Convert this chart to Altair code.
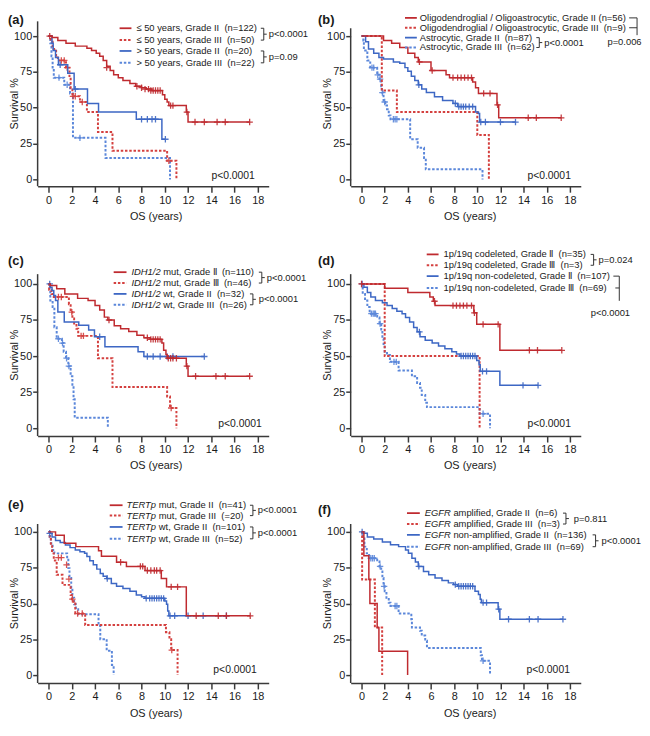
import altair as alt
import pandas as pd

FONT = "Liberation Sans"
RED = "#BF2A2F"
BLUE = "#3D67C4"
RED_D = "#D4403F"
BLUE_D = "#5B87DA"
AX = "#3a3a3a"
CROSS = "M-1,0L1,0M0,-1L0,1"

X_TICKS = [0, 2, 4, 6, 8, 10, 12, 14, 16, 18]
Y_TICKS = [0, 25, 50, 75, 100]
XDOM = [-0.94, 18.94]

# ---------------- panel (a) ----------------
A_LABELS = ["\u2264 50 years, Grade II \u00a0(n=122)", "\u2264 50 years, Grade III \u00a0(n=50)",
            "> 50 years, Grade II \u00a0(n=20)", "> 50 years, Grade III \u00a0(n=22)"]
A_PVALS = ["p<0.0001", "p=0.09"]
A_R2_T = [0, 0.3, 0.8, 1.5, 2.3, 3.3, 3.7, 4.1, 4.4, 4.7, 5.0, 5.3, 5.6, 6.0, 6.4, 7.0, 7.5, 8.0, 8.4, 8.9, 9.8, 10.0, 10.2, 10.35, 11.85, 12.0, 17.3]
A_R2_S = [100, 99, 97, 95, 93, 91.5, 90, 88, 86, 83, 79, 76, 73, 71, 69, 67, 65, 64, 63, 62, 59, 56, 54, 51.5, 47, 40, 40]
A_R2_CT = [0.1, 5.0, 7.6, 8.0, 8.3, 8.6, 8.8, 9.0, 9.2, 9.4, 9.6, 10.5, 10.7, 11.9, 12.6, 13.4, 14.5, 15.2, 17.3]
A_R2_CS = [100, 78, 65, 64, 63, 63, 62, 62, 62, 62, 62, 51.5, 51.5, 47, 40, 40, 40, 40, 40]
A_R3_T = [0, 0.2, 0.35, 0.65, 0.8, 1.5, 1.8, 1.9, 2.05, 2.7, 3.3, 4.25, 5.5, 10.2, 11.0]
A_R3_S = [100, 96, 91, 86, 83, 78, 71, 64, 58, 54, 47, 33, 20, 13, 0]
A_R3_CT = [1.1, 1.35, 1.6, 2.1, 2.3, 2.9, 10.35]
A_R3_CS = [83, 83, 78, 58, 58, 54, 13]
A_B2_T = [0, 0.3, 0.4, 0.6, 0.85, 1.65, 2.2, 3.35, 4.3, 7.55, 9.75, 10.05]
A_B2_S = [100, 95, 90, 85, 80, 74, 63, 53, 47, 42, 28, 28]
A_B2_CT = [1.0, 2.3, 8.0, 8.5, 8.9, 9.2, 10.05]
A_B2_CS = [80, 63, 42, 42, 42, 42, 28]
A_B3_T = [0, 0.15, 0.25, 0.35, 0.45, 1.35, 1.85, 2.1, 4.9, 10.45]
A_B3_S = [100, 95, 86, 77, 71, 66, 60, 29, 15, 0]
A_B3_CT = [0.9, 1.6, 2.7]
A_B3_CS = [71, 66, 29]

# ---------------- panel (b) ----------------
B_LABELS = ["Oligodendroglial / Oligoastrocytic, Grade II (n=56)",
            "Oligodendroglial / Oligoastrocytic, Grade III \u00a0(n=9)",
            "Astrocytic, Grade II \u00a0(n=87)", "Astrocytic, Grade III \u00a0(n=62)"]
B_PVALS = ["p=0.006", "p<0.0001"]
B_R2_T = [0, 1.9, 2.6, 3.3, 4.0, 4.6, 4.9, 6.0, 7.3, 7.6, 9.6, 9.85, 10.1, 11.7, 11.85, 17.25]
B_R2_S = [100, 97, 95, 92, 88, 85, 82, 76, 73, 71, 68, 64, 60, 52, 43, 43]
B_R2_CT = [5.0, 6.1, 7.9, 8.3, 8.6, 8.9, 9.2, 9.5, 10.55, 11.1, 11.75, 14.4, 15.1, 17.25]
B_R2_CS = [82, 76, 71, 71, 71, 71, 71, 71, 60, 60, 52, 43, 43, 43]
B_R3_T = [0, 1.75, 3.05, 10.0, 11.0]
B_R3_S = [100, 62, 47, 31, 0]
B_R3_CT = []
B_R3_CS = []
B_B2_T = [0, 0.35, 0.6, 1.05, 1.5, 1.9, 2.75, 3.3, 3.75, 4.0, 4.3, 4.6, 4.9, 5.2, 5.6, 6.3, 7.0, 7.9, 8.3, 9.85, 10.1, 10.2, 13.3]
B_B2_S = [100, 96, 91, 88, 85, 84, 82, 81, 78, 75.5, 72, 69, 66, 63, 60.6, 57.7, 55, 53, 50.8, 47, 46, 40, 40]
B_B2_CT = [4.95, 8.1, 8.4, 8.6, 8.8, 9.0, 9.3, 9.6, 10.3, 10.7, 12.0, 13.3]
B_B2_CS = [66, 53, 50.8, 50.8, 50.8, 50.8, 50.8, 50.8, 40, 40, 40, 40]
B_B3_T = [0, 0.15, 0.2, 0.5, 0.75, 1.35, 1.55, 1.7, 1.75, 1.9, 2.05, 2.2, 2.35, 2.5, 4.2, 4.85, 5.4, 5.55, 10.45]
B_B3_S = [100, 97, 90, 83, 78, 73, 70, 65, 60.6, 54, 51.5, 49, 44.6, 42, 28, 22, 15, 7, 0]
B_B3_CT = [0.9, 1.05, 1.4, 1.6, 1.8, 2.0, 2.75, 2.9, 3.05]
B_B3_CS = [78, 78, 73, 70, 60.6, 54, 42, 42, 42]

# ---------------- panel (c) ----------------
C_ITALIC = "IDH1/2"
C_LABELS = ["mut, Grade \u2161 \u00a0(n=110)", "mut, Grade \u2162 \u00a0(n=46)",
            "wt, Grade II \u00a0(n=32)", "wt, Grade III \u00a0(n=26)"]
C_PVALS = ["p<0.0001", "p<0.0001"]
C_R2_T = [0, 0.15, 0.7, 1.4, 2.5, 3.4, 4.0, 4.4, 4.8, 5.1, 5.65, 6.2, 6.9, 7.6, 8.2, 8.75, 9.75, 9.9, 10.1, 10.2, 11.85, 12.0, 17.3]
C_R2_S = [100, 99, 96.6, 93, 90, 88.5, 85, 82, 77, 75, 71, 69, 67, 64.5, 62.7, 61.6, 59, 54, 51, 48.5, 43, 36, 36]
C_R2_CT = [5.2, 8.5, 8.8, 9.0, 9.2, 9.4, 9.6, 10.3, 10.5, 10.7, 11.0, 11.9, 12.65, 14.4, 15.2, 17.3]
C_R2_CS = [75, 62.7, 61.6, 61.6, 61.6, 61.6, 61.6, 48.5, 48.5, 48.5, 48.5, 43, 36, 36, 36, 36]
C_R3_T = [0, 0.05, 0.25, 0.45, 1.75, 1.9, 2.05, 2.2, 2.4, 2.55, 4.25, 5.5, 10.2, 10.45, 11.0]
C_R3_S = [100, 96, 93, 91, 86, 80.5, 76, 72.5, 69, 64, 48.5, 28.5, 22, 14, 0]
C_R3_CT = [0.85, 1.1, 2.0, 2.8, 3.0, 10.55]
C_R3_CS = [91, 91, 80.5, 64, 64, 14]
C_B2_T = [0, 0.15, 0.3, 0.45, 0.6, 0.8, 1.35, 2.6, 3.45, 3.95, 4.85, 7.7, 8.2, 13.4]
C_B2_S = [100, 97.7, 95.4, 92, 88.5, 80.5, 73.7, 71.4, 68, 63.4, 56.5, 53, 49.7, 49.7]
C_B2_CT = [0.1, 4.4, 8.5, 9.0, 9.6, 10.2, 10.7, 13.4]
C_B2_CS = [100, 63.4, 49.7, 49.7, 49.7, 49.7, 49.7, 49.7]
C_B3_T = [0, 0.1, 0.15, 0.35, 0.5, 0.7, 1.15, 1.3, 1.5, 1.7, 1.9, 2.05, 2.15, 2.25, 5.1]
C_B3_S = [100, 96, 88.5, 84, 70, 62, 59, 53, 48.5, 43, 36, 29, 20, 7.3, 0]
C_B3_CT = [0.85, 1.2, 1.55, 1.75]
C_B3_CS = [62, 59, 48.5, 43]

# ---------------- panel (d) ----------------
D_LABELS = ["1p/19q codeleted, Grade \u2161 \u00a0(n=35)", "1p/19q codeleted, Grade \u2162 \u00a0(n=3)",
            "1p/19q non-codeleted, Grade \u2161 \u00a0(n=107)", "1p/19q non-codeleted, Grade \u2162 \u00a0(n=69)"]
D_PVALS = ["p=0.024", "p<0.0001"]
D_R2_T = [0, 2.0, 4.0, 5.9, 6.2, 6.35, 9.7, 9.95, 11.95, 17.3]
D_R2_S = [100, 97, 94, 91, 88, 85, 80, 72, 54, 54]
D_R2_CT = [0.0, 6.3, 7.9, 8.2, 8.5, 8.8, 9.1, 9.5, 9.75, 10.5, 11.8, 14.5, 15.2, 17.3]
D_R2_CS = [100, 88, 85, 85, 85, 85, 85, 85, 80, 72, 72, 54, 54, 54]
D_R3_T = [0, 2.0, 10.2]
D_R3_S = [100, 50, 0]
D_R3_CT = []
D_R3_CS = []
D_B2_T = [0, 0.2, 0.5, 0.8, 1.2, 1.8, 2.2, 2.65, 3.05, 3.5, 3.8, 4.15, 4.5, 4.8, 5.05, 5.5, 6.1, 6.65, 7.2, 7.8, 8.2, 8.5, 9.95, 10.15, 10.25, 11.95, 15.25]
D_B2_S = [100, 97.7, 94, 91, 88.5, 87, 85, 83, 81, 79.4, 76.7, 73.7, 69.8, 66.8, 63.4, 61, 59, 57, 55, 53, 51.5, 50, 47, 44, 39.4, 29.7, 29.7]
D_B2_CT = [0.05, 5.0, 8.6, 8.8, 9.0, 9.2, 9.4, 9.6, 9.8, 10.45, 10.8, 13.95, 15.25]
D_B2_CS = [100, 66.8, 50, 50, 50, 50, 50, 50, 50, 39.4, 39.4, 29.7, 29.7]
D_B3_T = [0, 0.1, 0.3, 0.5, 0.7, 1.35, 1.55, 1.7, 1.8, 1.9, 2.0, 2.2, 2.45, 3.2, 4.35, 4.8, 5.05, 5.2, 5.5, 5.65, 10.2, 11.1]
D_B3_S = [100, 93, 88.5, 84, 79.4, 76.7, 72.5, 68.4, 62, 56.5, 53, 50.8, 46, 40, 36, 31.4, 28, 23, 17.6, 14.6, 10, 0]
D_B3_CT = [0.85, 1.0, 1.1, 1.2, 1.6, 2.8, 3.0, 10.5]
D_B3_CS = [79.4, 79.4, 79.4, 79.4, 72.5, 46, 46, 10]

# ---------------- panel (e) ----------------
E_ITALIC = "TERTp"
E_LABELS = ["mut, Grade II \u00a0(n=41)", "mut, Grade III \u00a0(=20)",
            "wt, Grade II \u00a0(n=101)", "wt, Grade III \u00a0(n=52)"]
E_PVALS = ["p<0.0001", "p<0.0001"]
E_R2_T = [0, 0.6, 1.35, 2.35, 4.3, 4.55, 5.85, 6.7, 8.3, 9.7, 10.15, 11.85, 17.35]
E_R2_S = [100, 97.7, 92, 89.7, 86.9, 83, 78.8, 75.9, 73, 67.4, 61.6, 41.4, 41.4]
E_R2_CT = [6.2, 7.9, 8.1, 8.5, 8.8, 9.1, 9.3, 9.6, 10.55, 11.1, 12.7, 14.6, 15.3, 17.35]
E_R2_CS = [78.8, 75.9, 75.9, 73, 73, 73, 73, 73, 61.6, 61.6, 41.4, 41.4, 41.4, 41.4]
E_R3_T = [0, 0.1, 0.2, 0.3, 0.45, 0.7, 1.2, 1.9, 2.0, 2.15, 2.3, 3.15, 10.1, 10.4, 10.55, 11.1]
E_R3_S = [100, 95, 90, 85, 80, 70, 63, 56, 53, 50, 43, 35, 30, 25, 17.5, 0]
E_R3_CT = [0.85, 1.1, 1.55, 1.75, 2.05, 2.5, 2.9, 10.6]
E_R3_CS = [82, 82, 77, 67, 53, 43, 43, 17.5]
E_B2_T = [0, 0.15, 0.3, 0.6, 1.0, 1.45, 1.85, 2.3, 2.7, 3.1, 3.3, 3.55, 3.85, 4.15, 4.45, 4.7, 5.0, 5.4, 5.85, 6.4, 7.0, 7.55, 8.0, 8.3, 10.0, 10.15, 10.25, 10.35, 15.3]
E_B2_S = [100, 99, 96.5, 94, 92.6, 90.8, 89, 87.4, 86.2, 85, 82.8, 79.8, 77, 74, 71, 69, 67.4, 64, 62, 60.5, 58.6, 56, 54.7, 53.6, 51.7, 49.4, 44.8, 41.4, 41.4]
E_B2_CT = [0.1, 5.05, 8.4, 8.7, 8.9, 9.1, 9.3, 9.5, 9.7, 9.9, 10.45, 10.85, 12.0, 13.3, 15.3]
E_B2_CS = [99, 67.4, 53.6, 53.6, 53.6, 53.6, 53.6, 53.6, 53.6, 53.6, 41.4, 41.4, 41.4, 41.4, 41.4]
E_B3_T = [0, 0.1, 0.2, 0.35, 0.5, 1.6, 1.7, 1.8, 1.95, 2.05, 2.2, 2.35, 2.55, 4.3, 4.45, 5.0, 5.45, 5.6]
E_B3_S = [100, 96.5, 92, 87.4, 85, 80.5, 74.7, 67.8, 60.9, 54, 49.4, 46, 42.5, 34.5, 25, 17, 7, 0]
E_B3_CT = []
E_B3_CS = []

# ---------------- panel (f) ----------------
F_ITALIC = "EGFR"
F_LABELS = ["amplified, Grade II \u00a0(n=6)", "amplified, Grade III \u00a0(n=3)",
            "non-amplified, Grade II \u00a0(n=136)", "non-amplified, Grade III \u00a0(n=69)"]
F_PVALS = ["p=0.811", "p<0.0001"]
F_R2_T = [0, 0.2, 0.63, 0.72, 1.35, 1.5, 3.98]
F_R2_S = [100, 83.3, 66.7, 50, 33.3, 16.7, 0]
F_R2_CT = []
F_R2_CS = []
F_R3_T = [0, 0.05, 1.15, 1.78]
F_R3_S = [100, 66.7, 33.3, 0]
F_R3_CT = []
F_R3_CS = []
F_B2_T = [0, 0.15, 0.5, 1.05, 1.8, 2.5, 3.2, 3.8, 4.05, 4.35, 4.65, 4.9, 5.35, 5.8, 6.35, 6.95, 7.5, 7.95, 8.3, 9.8, 10.1, 10.25, 10.35, 11.8, 11.95, 17.4]
F_B2_S = [100, 99, 96.5, 95, 93, 91, 89.7, 87.4, 85, 81.6, 78.9, 75.9, 72.4, 70, 67.8, 66, 64.4, 63.2, 62, 58.6, 56.3, 52.9, 50.6, 46, 39, 39]
F_B2_CT = [0.05, 4.95, 8.1, 8.4, 8.6, 8.8, 9.0, 9.2, 9.4, 9.6, 10.5, 10.8, 11.85, 12.7, 14.5, 15.25, 17.4]
F_B2_CS = [100, 75.9, 63.2, 62, 62, 62, 62, 62, 62, 62, 50.6, 50.6, 46, 39, 39, 39, 39]
F_B3_T = [0, 0.1, 0.25, 0.45, 0.65, 1.35, 1.55, 1.7, 1.8, 1.9, 2.0, 2.15, 2.35, 2.5, 3.2, 4.3, 4.35, 5.05, 5.2, 5.5, 5.65, 10.3, 10.4, 11.1]
F_B3_S = [100, 95.4, 89.7, 85, 81.6, 79.3, 75.9, 72.4, 67.8, 62, 58.6, 54, 50.6, 48.3, 43, 39, 33.3, 31, 27.6, 24, 19, 13.8, 10, 0]
F_B3_CT = [0.8, 0.95, 1.1, 1.6, 1.95, 2.9, 3.05, 10.5]
F_B3_CS = [81.6, 81.6, 81.6, 75.9, 62, 48.3, 48.3, 10]

P_OVERALL = "p<0.0001"
X_TITLE = "OS (years)"
Y_TITLE = "Survival %"

ONE = alt.Data(values=[{"k": 0}])


def xenc():
    return alt.X("t:Q", scale=alt.Scale(domain=XDOM, nice=False, zero=False),
                 axis=alt.Axis(values=X_TICKS, title=None, grid=False, domainColor=AX, domainWidth=1.5,
                               tickColor=AX, tickWidth=1.5, tickSize=6, labelPadding=2, labelFont=FONT,
                               labelFontSize=11, labelColor="#1a1a1a", labelAngle=0, format="d",
                               labelFlush=False, labelOverlap=False))


def yenc(ydom):
    return alt.Y("s:Q", scale=alt.Scale(domain=ydom, nice=False, zero=False),
                 axis=alt.Axis(values=Y_TICKS, title=None, grid=False, domain=False, tickColor=AX,
                               tickWidth=1.5, tickSize=5, labelPadding=1, labelFont=FONT, labelFontSize=11,
                               labelColor="#1a1a1a", format="d", labelFlush=False, labelOverlap=False))


def txt(text, x, y, size=9.5, align="left", italic=False, bold=False, angle=None, color="#1a1a1a"):
    kw = dict(text=text, align=align, baseline="middle", fontSize=size, font=FONT, color=color)
    if italic:
        kw["fontStyle"] = "italic"
    if bold:
        kw["fontWeight"] = "bold"
    if angle is not None:
        kw["angle"] = angle
    return alt.Chart(ONE).mark_text(**kw).encode(x=alt.value(x), y=alt.value(y))


def hrule(x1, x2, y, color="#333", width=1.0, dash=None):
    kw = dict(color=color, strokeWidth=width)
    if dash:
        kw["strokeDash"] = dash
    return alt.Chart(ONE).mark_rule(**kw).encode(x=alt.value(x1), x2=alt.value(x2), y=alt.value(y))


def vrule(x, y1, y2, color="#333", width=1.0):
    return alt.Chart(ONE).mark_rule(color=color, strokeWidth=width).encode(
        x=alt.value(x), y=alt.value(y1), y2=alt.value(y2))


def bracket(xl, xr, y1, y2, tick=3):
    return [hrule(xl, xr, y1), vrule(xr, y1, y2), hrule(xl, xr, y2), hrule(xr, xr + tick, (y1 + y2) / 2)]


STYLES = [(RED, False), (RED_D, True), (BLUE, False), (BLUE_D, True)]


def km(T, S, CT, CS, color, dotted, ydom):
    df = pd.DataFrame({"t": T, "s": S})
    kw = dict(interpolate="step-after", color=color, strokeWidth=1.5)
    if dotted:
        kw.update(strokeDash=[2.5, 1.8], strokeWidth=2)
    out = [alt.Chart(df).mark_line(**kw).encode(x=xenc(), y=yenc(ydom))]
    if CT:
        cdf = pd.DataFrame({"t": CT, "s": CS})
        out.append(alt.Chart(cdf).mark_point(shape=CROSS, size=42, filled=False, color=color,
                                             strokeWidth=1.3, opacity=0.9).encode(x=xenc(), y=yenc(ydom)))
    return out


def legend(sx0, sx1, tx, rows, labels, italic=None, italic_w=0.0):
    out = []
    for (color, dotted), yy, lab in zip(STYLES, rows, labels):
        out.append(hrule(sx0, sx1, yy, color=color, width=2.0 if dotted else 1.8,
                         dash=[2.5, 1.8] if dotted else None))
        if italic:
            out.append(txt(italic, tx, yy, italic=True))
            out.append(txt(lab, tx + italic_w + 2.6, yy))
        else:
            out.append(txt(lab, tx, yy))
    return out


def panel(W, H, ydom, series, extra, label, lab_xy, p_xy, xt_x, xt_dy, axis_top=0):
    layers = [vrule(0, axis_top, H, color=AX, width=1.5)]
    order = [3, 1, 2, 0]
    for i in order:
        T, S, CT, CS = series[i]
        color, dotted = STYLES[i]
        layers += km(T, S, CT, CS, color, dotted, ydom)
    layers += extra
    layers.append(txt(label, lab_xy[0], lab_xy[1], size=13, bold=True))
    layers.append(txt(P_OVERALL, p_xy[0], p_xy[1], size=10.5, align="right"))
    layers.append(txt(X_TITLE, xt_x, H + xt_dy, size=11, align="center"))
    layers.append(txt(Y_TITLE, -22.5, H / 2, size=11, align="center", angle=270))
    return alt.layer(*layers).properties(width=W, height=H)


WL, WR = 234, 233
H1, H2, H3 = 167, 164, 161
YD1, YD2, YD3 = [-4.8, 110.3], [-5.5, 106.8], [-5.5, 105.5]

# (a)
rows_a = [7, 19, 30, 42]
extra_a = legend(83, 95, 100, rows_a, A_LABELS)
extra_a += bracket(226, 229, rows_a[0], rows_a[1]) + [txt(A_PVALS[0], 234, (rows_a[0] + rows_a[1]) / 2)]
extra_a += bracket(226, 229, rows_a[2], rows_a[3]) + [txt(A_PVALS[1], 234, (rows_a[2] + rows_a[3]) / 2)]
pa = panel(WL, H1, YD1,
           [(A_R2_T, A_R2_S, A_R2_CT, A_R2_CS), (A_R3_T, A_R3_S, A_R3_CT, A_R3_CS),
            (A_B2_T, A_B2_S, A_B2_CT, A_B2_CS), (A_B3_T, A_B3_S, A_B3_CT, A_B3_CS)],
           extra_a, "(a)", (-30, -1.5), (220, H1 - 10), 120, 31)

# (b)
rows_b = [-3.5, 6.5, 16.5, 26.5]
extra_b = legend(55, 67, 70, rows_b, B_LABELS)
extra_b += [hrule(282, 290, rows_b[0]), hrule(282, 290, rows_b[1]), vrule(290, rows_b[0], 14),
            txt(B_PVALS[0], 260, 21)]
extra_b += bracket(188, 191, rows_b[2], rows_b[3]) + [txt(B_PVALS[1], 196, (rows_b[2] + rows_b[3]) / 2)]
pb = panel(WR, H1, YD1,
           [(B_R2_T, B_R2_S, B_R2_CT, B_R2_CS), (B_R3_T, B_R3_S, B_R3_CT, B_R3_CS),
            (B_B2_T, B_B2_S, B_B2_CT, B_B2_CS), (B_B3_T, B_B3_S, B_B3_CT, B_B3_CS)],
           extra_b, "(b)", (-33, -1.5), (223, H1 - 10), 121, 31, axis_top=7)

# (c)
rows_c = [-2, 9, 20, 31]
extra_c = legend(77, 90, 95, rows_c, C_LABELS, italic=C_ITALIC, italic_w=29.6)
extra_c += bracket(224, 227, rows_c[0], rows_c[1]) + [txt(C_PVALS[0], 232, (rows_c[0] + rows_c[1]) / 2)]
extra_c += bracket(215, 218, rows_c[2], rows_c[3]) + [txt(C_PVALS[1], 224, (rows_c[2] + rows_c[3]) / 2)]
pc = panel(WL, H2, YD2,
           [(C_R2_T, C_R2_S, C_R2_CT, C_R2_CS), (C_R3_T, C_R3_S, C_R3_CT, C_R3_CS),
            (C_B2_T, C_B2_S, C_B2_CT, C_B2_CS), (C_B3_T, C_B3_S, C_B3_CT, C_B3_CS)],
           extra_c, "(c)", (-30, -13), (227, H2 - 12), 120, 30)

# (d)
rows_d = [-20, -9, 2, 14]
extra_d = legend(77, 89, 94, rows_d, D_LABELS)
extra_d += bracket(243, 246, rows_d[0], rows_d[1]) + [txt(D_PVALS[0], 251, (rows_d[0] + rows_d[1]) / 2)]
extra_d += [hrule(266, 272, rows_d[2]), hrule(268, 272, rows_d[3]), vrule(272, rows_d[2], 27),
            txt(D_PVALS[1], 263, 39, align="center")]
pd_ = panel(WR, H2, YD2,
            [(D_R2_T, D_R2_S, D_R2_CT, D_R2_CS), (D_R3_T, D_R3_S, D_R3_CT, D_R3_CS),
             (D_B2_T, D_B2_S, D_B2_CT, D_B2_CS), (D_B3_T, D_B3_S, D_B3_CT, D_B3_CS)],
            extra_d, "(d)", (-33, -13), (223, H2 - 12), 121, 30)

# (e)
rows_e = [-19, -8.5, 3, 15]
extra_e = legend(73, 86, 90, rows_e, E_LABELS, italic=E_ITALIC, italic_w=30.1)
extra_e += bracket(215, 218, rows_e[0], rows_e[1]) + [txt(E_PVALS[0], 223, (rows_e[0] + rows_e[1]) / 2)]
extra_e += bracket(215, 218, rows_e[2], rows_e[3]) + [txt(E_PVALS[1], 223, (rows_e[2] + rows_e[3]) / 2)]
pe = panel(WL, H3, YD3,
           [(E_R2_T, E_R2_S, E_R2_CT, E_R2_CS), (E_R3_T, E_R3_S, E_R3_CT, E_R3_CS),
            (E_B2_T, E_B2_S, E_B2_CT, E_B2_CS), (E_B3_T, E_B3_S, E_B3_CT, E_B3_CS)],
           extra_e, "(e)", (-30, -19), (222, H3 - 13), 120, 31)

# (f)
rows_f = [-11, 0, 11, 23]
extra_f = legend(57, 70, 75, rows_f, F_LABELS, italic=F_ITALIC, italic_w=26.4)
extra_f += bracket(215, 218, rows_f[0], rows_f[1]) + [txt(F_PVALS[0], 226, (rows_f[0] + rows_f[1]) / 2)]
extra_f += bracket(245, 248, rows_f[2], rows_f[3]) + [txt(F_PVALS[1], 254, (rows_f[2] + rows_f[3]) / 2)]
pf = panel(WR, H3, YD3,
           [(F_R2_T, F_R2_S, F_R2_CT, F_R2_CS), (F_R3_T, F_R3_S, F_R3_CT, F_R3_CS),
            (F_B2_T, F_B2_S, F_B2_CT, F_B2_CS), (F_B3_T, F_B3_S, F_B3_CT, F_B3_CS)],
           extra_f, "(f)", (-33, -14), (222, H3 - 13), 121, 31)

chart = alt.concat(pa, pb, pc, pd_, pe, pf, columns=2, spacing={"row": 89, "column": 83},
                   bounds="flush", align="each").resolve_scale(
    x="independent", y="independent").properties(
    padding={"left": 0, "top": 0, "right": 0, "bottom": 0}).configure_view(stroke=None)

chart.save("out.html", embed_options={"renderer": "svg", "actions": False})
